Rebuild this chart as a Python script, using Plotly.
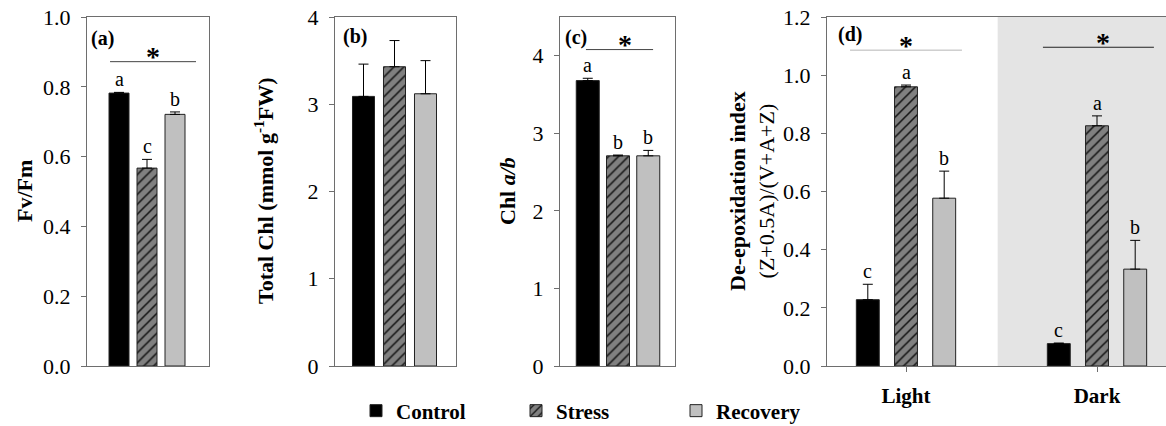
import plotly.graph_objects as go

W, H = 1166, 426

# ---------------- data ----------------
treatments = ["Control", "Stress", "Recovery"]
fvfm = [0.782, 0.567, 0.721]
fvfm_err = [0.002, 0.025, 0.007]
fvfm_letters = ["a", "c", "b"]

total_chl = [3.09, 3.43, 3.12]
total_chl_err = [0.37, 0.30, 0.38]

chl_ab = [3.68, 2.71, 2.71]
chl_ab_err = [0.03, 0.01, 0.07]
chl_ab_letters = ["a", "b", "b"]

conditions = ["Light", "Dark"]
deep_control = [0.228, 0.077]
deep_control_err = [0.053, 0.002]
deep_stress = [0.960, 0.826]
deep_stress_err = [0.006, 0.034]
deep_recovery = [0.577, 0.333]
deep_recovery_err = [0.093, 0.099]
deep_letters = {"Control": ["c", "c"], "Stress": ["a", "a"], "Recovery": ["b", "b"]}

# ---------------- styles ----------------
FONT = "Liberation Serif"
AX = "#6e6e6e"
fills = {"Control": "#000000", "Stress": "#808080", "Recovery": "#c0c0c0"}
patterns = {
    "Control": dict(shape=""),
    "Stress": dict(shape="/", fgcolor="#111111", bgcolor="#808080", size=7, solidity=0.22),
    "Recovery": dict(shape=""),
}

def px_x(p):
    return p / W

def px_y(p):
    return 1 - p / H

TOP, BOT = 17, 366
panels = {  # pixel boxes (left, right)
    "a": (87, 209),
    "b": (335, 456),
    "c": (560, 675),
    "d": (827, 1166),
}

fig = go.Figure()

single_offsets = [-1, 0, 1]

def add_single(ax_idx, values, errs, width, letters, legend):
    xa = "x" if ax_idx == 1 else f"x{ax_idx}"
    ya = "y" if ax_idx == 1 else f"y{ax_idx}"
    for i, t in enumerate(treatments):
        fig.add_trace(go.Bar(
            x=[single_offsets[i]], y=[values[i]], width=width, name=t,
            legendgroup=t, showlegend=legend,
            marker=dict(color=fills[t], line=dict(color="#222222", width=1),
                        pattern=patterns[t]),
            error_y=dict(type="data", symmetric=False, array=[errs[i]], arrayminus=[0],
                         color="black", thickness=1, width=5),
            xaxis=xa, yaxis=ya,
        ))
        if letters:
            fig.add_annotation(x=single_offsets[i], y=values[i] + errs[i], xref=xa, yref=ya,
                               text=letters[i], showarrow=False, xanchor="center",
                               yanchor="bottom", yshift=0,
                               font=dict(family=FONT, size=20, color="black"))

add_single(1, fvfm, fvfm_err, 0.714, fvfm_letters, True)
add_single(2, total_chl, total_chl_err, 0.71, None, False)
add_single(3, chl_ab, chl_ab_err, 0.76, chl_ab_letters, False)

deep_vals = {"Control": (deep_control, deep_control_err),
             "Stress": (deep_stress, deep_stress_err),
             "Recovery": (deep_recovery, deep_recovery_err)}
group_off = [-0.2, 0.0, 0.2]
for i, t in enumerate(treatments):
    vals, errs = deep_vals[t]
    xs = [g + group_off[i] for g in range(len(conditions))]
    fig.add_trace(go.Bar(
        x=xs, y=vals, width=0.12, name=t, legendgroup=t, showlegend=False,
        marker=dict(color=fills[t], line=dict(color="#222222", width=1), pattern=patterns[t]),
        error_y=dict(type="data", symmetric=False, array=errs, arrayminus=[0] * len(errs),
                     color="black", thickness=1, width=5),
        xaxis="x4", yaxis="y4",
    ))
    for g in range(len(conditions)):
        fig.add_annotation(x=xs[g], y=vals[g] + errs[g], xref="x4", yref="y4",
                           text=deep_letters[t][g], showarrow=False, xanchor="center",
                           yanchor="bottom", yshift=0,
                           font=dict(family=FONT, size=20, color="black"))

ydom = [px_y(BOT), px_y(TOP)]
common_y = dict(showline=True, linecolor=AX, linewidth=1, ticks="outside", ticklen=5,
                tickcolor=AX, tickfont=dict(family=FONT, size=22, color="black"),
                showgrid=False, zeroline=False, ticklabelstandoff=6, domain=ydom,
                automargin=False)
common_x = dict(showline=True, linecolor=AX, linewidth=1, showgrid=False, zeroline=False,
                automargin=False)

xranges = {
    "a": [-60 / 28, 62 / 28],
    "b": [-59.5 / 31, 61.5 / 31],
    "c": [-58 / 30.25, 57 / 30.25],
    "d": [-(906 - 827) / 191, (1166 - 906) / 191],
}

layout_axes = {}
for k, idx in zip("abc", [1, 2, 3]):
    l, r = panels[k]
    xname = "xaxis" if idx == 1 else f"xaxis{idx}"
    yname = "yaxis" if idx == 1 else f"yaxis{idx}"
    layout_axes[xname] = dict(common_x, domain=[px_x(l), px_x(r)], range=xranges[k],
                              showticklabels=False, ticks="", mirror=True,
                              anchor="y" if idx == 1 else f"y{idx}")
    layout_axes[yname] = dict(common_y, mirror=True, anchor="x" if idx == 1 else f"x{idx}")

layout_axes["yaxis"].update(range=[0, 1.0], dtick=0.2, tickformat=".1f")
layout_axes["yaxis2"].update(range=[0, 4], dtick=1)
layout_axes["yaxis3"].update(range=[0, 4.5], dtick=1)

l, r = panels["d"]
layout_axes["xaxis4"] = dict(common_x, domain=[px_x(l), 1.0], range=xranges["d"], mirror=True,
                             tickvals=list(range(len(conditions))), ticktext=conditions,
                             ticks="outside", ticklen=5, tickcolor=AX, ticklabelstandoff=6,
                             tickfont=dict(family=FONT, size=21, color="black", weight="bold"),
                             anchor="y4")
layout_axes["yaxis4"] = dict(common_y, range=[0, 1.2], dtick=0.2, tickformat=".1f",
                             mirror=False, anchor="x4")

fig.update_layout(**layout_axes)

# dark-period shading in panel d
fig.add_shape(type="rect", xref="x4", yref="y4", x0=0.48, x1=xranges["d"][1], y0=0, y1=1.2,
              fillcolor="#e4e4e4", line=dict(width=0), layer="below")

# significance lines and stars
sig = [
    ("x", "y", -1.32, 1.75, 0.872, 0.21, 0.886, "#444444"),
    ("x3", "y3", -1.06, 1.16, 4.08, 0.23, 4.15, "#444444"),
    ("x4", "y4", -0.293, 0.293, 1.086, 0.0, 1.103, "#b5b5b5"),
    ("x4", "y4", 0.717, 1.298, 1.096, 1.03, 1.114, "#222222"),
]
for xa, ya, x0, x1, yl, xs, ys, col in sig:
    fig.add_shape(type="line", xref=xa, yref=ya, x0=x0, x1=x1, y0=yl, y1=yl,
                  line=dict(color=col, width=1))
    fig.add_annotation(x=xs, y=ys, xref=xa, yref=ya, text="<b>*</b>", showarrow=False,
                       xanchor="center", yanchor="middle",
                       font=dict(family=FONT, size=28, color="black"))

# panel labels
for lab, xp, yp in [("(a)", 102, 39), ("(b)", 355, 36), ("(c)", 576, 38), ("(d)", 850, 35)]:
    fig.add_annotation(x=px_x(xp), y=px_y(yp), xref="paper", yref="paper", text=f"<b>{lab}</b>",
                       showarrow=False, xanchor="center", yanchor="middle",
                       font=dict(family=FONT, size=20, color="black"))

# axis titles
titles = [
    ("<b>Fv/Fm</b>", 25),
    ("<b>Total Chl (mmol g<sup>-1</sup>FW)</b>", 264),
    ("<b>Chl <i>a/b</i></b>", 508),
    ("<b>De-epoxidation index</b><br>(Z+0.5A)/(V+A+Z)", 752),
]
for txt, xp in titles:
    fig.add_annotation(x=px_x(xp), y=px_y(191), xref="paper", yref="paper", text=txt,
                       textangle=-90, showarrow=False, xanchor="center", yanchor="middle",
                       font=dict(family=FONT, size=22, color="black"))

fig.update_layout(
    template="none",
    width=W, height=H, margin=dict(l=0, r=0, t=0, b=0, autoexpand=False),
    paper_bgcolor="white", plot_bgcolor="white",
    barmode="overlay",
    showlegend=True,
    font=dict(family=FONT),
    legend=dict(orientation="h", x=px_x(356), xanchor="left", y=px_y(411), yanchor="middle",
                font=dict(family=FONT, size=21, color="black", weight="bold"),
                entrywidth=115, bgcolor="rgba(0,0,0,0)"),
)

fig.write_html("out.html")
